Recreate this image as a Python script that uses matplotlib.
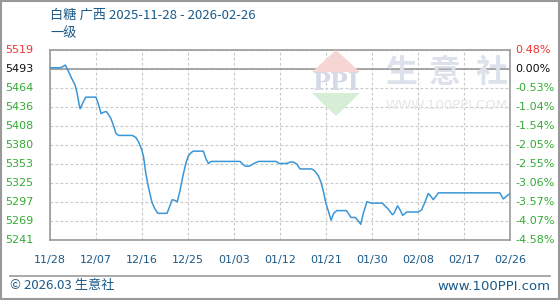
import matplotlib
matplotlib.use("Agg")
import matplotlib.pyplot as plt
from matplotlib.patches import Polygon, Rectangle
from matplotlib.lines import Line2D

plt.rcParams['font.family'] = ['Noto Sans CJK SC', 'DejaVu Sans']

# day offsets from 2025-11-28 and price (breakpoints)
days = [0, 2, 2.6, 3, 3.6, 4.2, 4.9, 5.3, 5.7, 5.9, 6.5, 7, 9, 9.5, 10, 10.5,
        11, 11.4, 11.9, 12.4, 12.9, 13.4, 16.1, 16.8, 17.3, 17.9, 18.3, 18.7,
        19.1, 19.6, 20, 20.5, 21.1, 22.9, 23.5, 23.9, 24.4, 24.9, 25.4, 25.9,
        26.5, 27, 27.5, 28, 30, 30.5, 31, 31.6, 37.2, 37.7, 38.2, 39, 39.9,
        40.8, 44.2, 44.8, 46.3, 47, 47.6, 48.3, 48.9, 51.2, 51.8, 52.5, 53,
        53.5, 53.9, 54.3, 55, 55.5, 56.1, 58, 58.9, 59.7, 60.2, 60.8, 61.3, 62,
        62.9, 65, 66.2, 67, 67.3, 68, 68.5, 69, 69.8, 72.1, 72.7, 73.4, 74,
        74.5, 75, 76, 88, 88.7, 89.3, 90]
price = [5493, 5493, 5495, 5497, 5488, 5478, 5468, 5456, 5439, 5433, 5443,
         5450, 5450, 5439, 5426, 5428, 5429, 5425, 5419, 5409, 5397, 5394,
         5394, 5391, 5385, 5374, 5363, 5341, 5324, 5307, 5295, 5287, 5280,
         5280, 5292, 5300, 5299, 5297, 5312, 5331, 5351, 5363, 5368, 5371,
         5371, 5360, 5353, 5356, 5356, 5352, 5349, 5349, 5353, 5356, 5356,
         5353, 5353, 5355, 5355, 5352, 5345, 5345, 5342, 5335, 5326, 5312,
         5297, 5287, 5270, 5280, 5284, 5284, 5274, 5274, 5270, 5264, 5280,
         5297, 5295, 5295, 5286, 5278, 5280, 5291, 5285, 5277, 5282, 5282,
         5285, 5297, 5309, 5305, 5300, 5310, 5310, 5301, 5305, 5309]

xticks = [0, 9, 18, 27, 36, 45, 54, 63, 72, 81, 90]
xlabels = ['11/28', '12/07', '12/16', '12/25', '01/03', '01/12', '01/21',
           '01/30', '02/08', '02/17', '02/26']
ylabels = ['5241', '5269', '5297', '5325', '5353', '5380', '5408', '5436',
           '5464', '5493', '5519']
rlabels = ['-4.58%', '-4.07%', '-3.57%', '-3.06%', '-2.55%', '-2.05%',
           '-1.54%', '-1.04%', '-0.53%', '0.00%', '0.48%']
ymin, ymax = 5241, 5519

fig = plt.figure(figsize=(5.6, 3.0), dpi=100)
ax = fig.add_axes([50/560, 60/300, 460/560, 190/300])
ax.set_xlim(0, 90)
ax.set_ylim(ymin, ymax)

step = (ymax - ymin) / 10
ypos = [ymin + step * i for i in range(11)]
ax.set_yticks(ypos)
ax.set_yticklabels([])
ax.set_xticks(xticks)
ax.set_xticklabels(xlabels, fontsize=8, color='#1a5a8a', family='DejaVu Sans')
ax.tick_params(length=0, pad=11)
ax.grid(True, color='#c8c8c8', linestyle=(0, (2.5, 2)), linewidth=0.8)
for s in ax.spines.values():
    s.set_color('#999999')
    s.set_linewidth(1.2)
ax.axhline(ypos[9], color='#999999', linewidth=1.2)

# watermark
for cx, ch in zip([401, 445, 492], '生意社'):
    fig.text(cx/560, 1 - 73/300, ch, fontsize=23, color='#dde1ec',
             ha='center', va='center', fontweight='bold')
fig.text(447/560, 1 - 106/300, 'WWW.100PPI.COM', fontsize=9.5,
         color='#e6e6e6', ha='center', va='center', family='DejaVu Sans')
fig.patches.append(Polygon([(312/560, 1 - 72/300), (360/560, 1 - 72/300),
                            (336/560, 1 - 50/300)], closed=True,
                           transform=fig.transFigure, facecolor='#f6d6d4',
                           edgecolor='none'))
fig.patches.append(Polygon([(312/560, 1 - 93/300), (360/560, 1 - 93/300),
                            (336/560, 1 - 116/300)], closed=True,
                           transform=fig.transFigure, facecolor='#d6eed6',
                           edgecolor='none'))
fig.text(336/560, 1 - 83/300, 'PPI', fontsize=17, color='#d4d9e6',
         ha='center', va='center', family='DejaVu Serif', fontweight='bold')

ax.plot(days, price, color='#3a96d6', linewidth=1.1, zorder=5)

for i, (yv, lab, rlab) in enumerate(zip(ypos, ylabels, rlabels)):
    if i == 10:
        c = '#ee3333'
    elif i == 9:
        c = '#111111'
    else:
        c = '#33aa33'
    ax.text(-0.098, yv, lab, transform=ax.get_yaxis_transform(), fontsize=8,
            color=c, ha='left', va='center', family='DejaVu Sans')
    ax.text(1.012, yv, rlab, transform=ax.get_yaxis_transform(), fontsize=8,
            color=c, ha='left', va='center', family='DejaVu Sans')

fig.text(50/560, 1 - 15/300, '白糖 广西 2025-11-28 - 2026-02-26', fontsize=9.5,
         color='#1a5a8a', ha='left', va='center')
fig.text(50/560, 1 - 34/300, '一级', fontsize=9.5, color='#1a5a8a',
         ha='left', va='center')
fig.text(10/560, 1 - 286/300, '© 2026.03 生意社', fontsize=9.5,
         color='#1a5a8a', ha='left', va='center')
fig.text(550/560, 1 - 286/300, 'www.100PPI.com', fontsize=9.5,
         color='#1a5a8a', ha='right', va='center', family='DejaVu Sans')
fig.lines.append(Line2D([10/560, 550/560], [1 - 275.5/300, 1 - 275.5/300],
                        transform=fig.transFigure, color='#999999',
                        linewidth=1.2))
fig.patches.append(Rectangle((0.001, 0.002), 0.997, 0.995,
                             transform=fig.transFigure, fill=False,
                             edgecolor='#999999', linewidth=1.5))

fig.savefig('out.png', dpi=100)
